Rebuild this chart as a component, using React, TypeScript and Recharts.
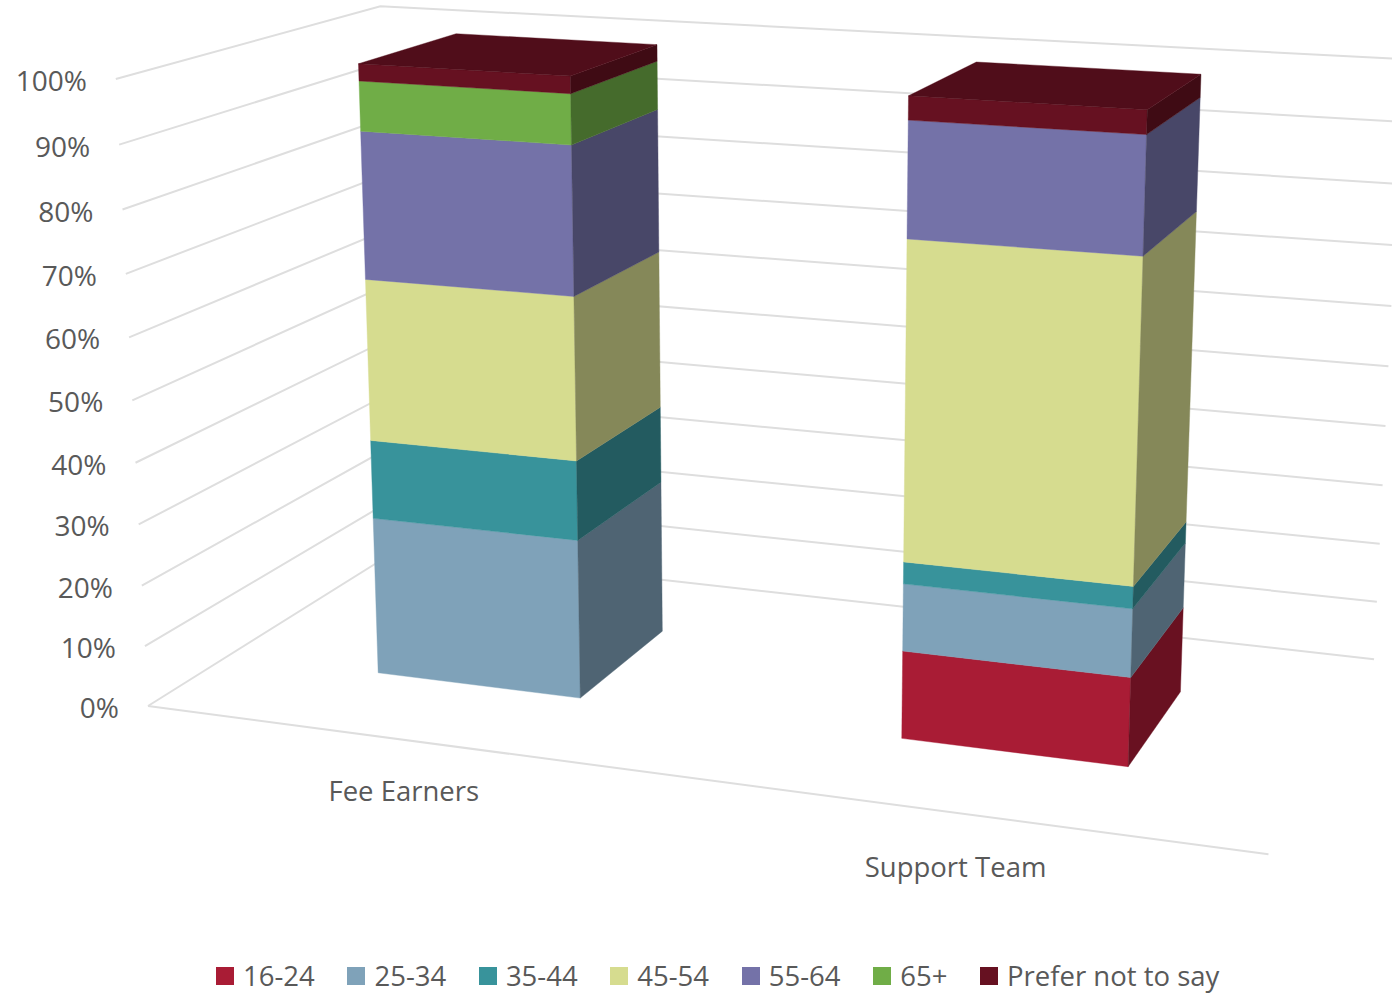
import React from 'react';
import { BarChart, Bar, XAxis, YAxis, CartesianGrid, Legend, usePlotArea } from 'recharts';

const categories = ['Fee Earners', 'Support Team'];
const ages = ['16-24', '25-34', '35-44', '45-54', '55-64', '65+', 'Prefer not to say'];
const feeEarners = [0, 26.3, 13, 26.4, 23.7, 7.9, 2.7];
const supportTeam = [14.2, 10.8, 3.5, 50.1, 17.8, 0, 3.6];
const colours = ['#A91C35', '#7FA2B9', '#38939B', '#D6DC8F', '#7472A8', '#70AD47', '#661121'];
const valueTicks = [0, 10, 20, 30, 40, 50, 60, 70, 80, 90, 100];

const rows = categories.map((name, c) => {
  const row: Record<string, string | number> = { name };
  ages.forEach((a, i) => { row[a] = (c === 0 ? feeEarners : supportTeam)[i]; });
  return row;
});

// Perspective camera: maps (u across, v up, d deep), each 0..1, to the page.
const ORIGIN = [148, 706];
const VANISH_U = [-8700, -464];
const VANISH_V = [774, 12900];
const VANISH_D = [1964, -430];
const WU = -0.1124, WV = -0.0489, WD = 0.1589;
const DEPTH_FRONT = 0.3, DEPTH_BACK = 0.7;
const BAR_SHIFT = 0.0015;

const project = (u: number, v: number, d: number): [number, number] => {
  const w = 1 + WU * u + WV * v + WD * d;
  return [0, 1].map(k => (ORIGIN[k] + WU * u * VANISH_U[k] + WV * v * VANISH_V[k] + WD * d * VANISH_D[k]) / w) as [number, number];
};
const path = (list: [number, number][]) => 'M' + list.map(p => p[0].toFixed(2) + ' ' + p[1].toFixed(2)).join('L') + 'Z';
const pts = (list: [number, number][]) => list.map(p => p[0].toFixed(2) + ',' + p[1].toFixed(2)).join(' ');

const shade = (hex: string, f: number) => {
  const n = parseInt(hex.slice(1), 16);
  const c = [(n >> 16) & 255, (n >> 8) & 255, n & 255].map(x => Math.round(x * f));
  return `rgb(${c[0]},${c[1]},${c[2]})`;
};

const FONT = '"Open Sans", sans-serif';
const TEXT = '#595959';
const GRID = '#DEDEDE';

function Prism(props: any) {
  const plot = usePlotArea();
  const { x, y, width, height, fill, isTop } = props;
  if (!plot || !height) return null;
  const bottom = plot.y + plot.height;
  const u0 = (x - plot.x) / plot.width + BAR_SHIFT;
  const u1 = (x + width - plot.x) / plot.width + BAR_SHIFT;
  const v1 = (bottom - y) / plot.height;
  const v0 = (bottom - (y + height)) / plot.height;
  const fr = DEPTH_FRONT, bk = DEPTH_BACK;
  const sideColour = shade(fill, 0.62);
  const topColour = shade(fill, 0.78);
  return (
    <g>
      <path d={path([project(u0, v0, fr), project(u1, v0, fr), project(u1, v1, fr), project(u0, v1, fr)])} fill={fill} stroke={fill} strokeWidth={0.4} />
      <path d={path([project(u1, v0, fr), project(u1, v0, bk), project(u1, v1, bk), project(u1, v1, fr)])} fill={sideColour} stroke={sideColour} strokeWidth={0.4} />
      {isTop ? <path d={path([project(u0, v1, fr), project(u1, v1, fr), project(u1, v1, bk), project(u0, v1, bk)])} fill={topColour} stroke={topColour} strokeWidth={0.4} /> : null}
    </g>
  );
}

function GridLine(props: any) {
  const plot = usePlotArea();
  if (!plot) return null;
  const v = (plot.y + plot.height - props.y1) / plot.height;
  return (
    <g>
      <polyline points={pts([project(0, v, 0), project(0, v, 1), project(1, v, 1)])} fill="none" stroke={GRID} strokeWidth={2} />
      {Math.abs(v) < 0.001 ? <polyline points={pts([project(0, 0, 0), project(1, 0, 0)])} fill="none" stroke={GRID} strokeWidth={2} /> : null}
    </g>
  );
}

function ValueTick(props: any) {
  const plot = usePlotArea();
  if (!plot) return null;
  const v = (plot.y + plot.height - props.y) / plot.height;
  const [px, py] = project(0, v, 0);
  return <text x={px - 29} y={py + 12} textAnchor="end" fontFamily={FONT} fontSize={28} fill={TEXT}>{props.payload.value}%</text>;
}

function CategoryTick(props: any) {
  const plot = usePlotArea();
  if (!plot) return null;
  const u = (props.x - plot.x) / plot.width;
  const [px, py] = project(u, 0, 0);
  return <text x={px - 14 * (u - 0.25)} y={py + 61 + 4 * (u - 0.25)} textAnchor="middle" fontFamily={FONT} fontSize={27.5} fill={TEXT}>{props.payload.value}</text>;
}

function LegendBox(props: any) {
  const items = props.payload || [];
  return (
    <div style={{ display: 'flex', justifyContent: 'flex-start', marginLeft: 216, gap: 32.7, fontFamily: FONT, fontSize: 27.5, color: TEXT, lineHeight: '36px' }}>
      {items.map((it: any) => (
        <span key={it.value} style={{ display: 'flex', alignItems: 'center', gap: 9 }}>
          <span style={{ width: 18, height: 18, background: it.color, display: 'inline-block' }} />
          {it.value}
        </span>
      ))}
    </div>
  );
}

export default function App() {
  return (
    <div style={{ position: 'absolute', left: 0, top: 0, width: 1392, height: 995, background: '#fff' }}>
      <BarChart width={1392} height={995} data={rows} barCategoryGap="30%" margin={{ top: 100, right: 100, bottom: 100, left: 0 }}>
        <CartesianGrid vertical={false} horizontal={(p: any) => <GridLine key={p.key ?? p.y1} {...p} />} />
        <XAxis dataKey="name" axisLine={false} tickLine={false} tick={(p: any) => <CategoryTick {...p} />} />
        <YAxis type="number" width={100} domain={[0, 100]} ticks={valueTicks} axisLine={false} tickLine={false} tick={(p: any) => <ValueTick {...p} />} />
        {ages.map((a, i) => (
          <Bar key={a} dataKey={a} stackId="age" fill={colours[i]} isAnimationActive={false}
            shape={(p: any) => <Prism {...p} fill={colours[i]} isTop={i === ages.length - 1} />} />
        ))}
        <Legend content={(p: any) => <LegendBox {...p} />} wrapperStyle={{ position: 'absolute', left: 0, top: 958, bottom: 'auto', width: 1392 }} />
      </BarChart>
    </div>
  );
}
